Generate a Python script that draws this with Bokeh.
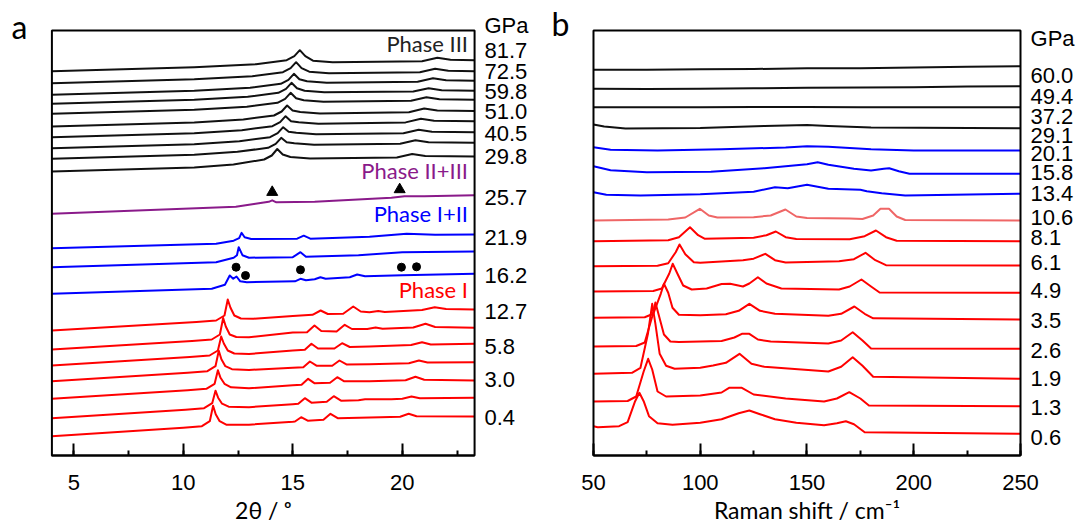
from bokeh.plotting import figure
from bokeh.models import (Label, LabelSet, ColumnDataSource, Range1d, SingleIntervalTicker,
                          BoxAnnotation)
from bokeh.layouts import row
from bokeh.embed import file_html
from bokeh.resources import INLINE
from bokeh.core.properties import value

# ---------------- Panel a : XRD (2theta, relative intensity + stacking offset) ----------------
xrd_black_offset = [384.3, 372.3, 360.7, 351.7, 341.7, 329, 318.3, 307.3, 296.7, 284]
xrd_black_x = [
    [4, 10.5, 13.32, 14.72, 15.07, 15.32, 15.57, 15.92, 16.82, 20.9, 21.6, 22.2, 23.3],
    [4, 10.5, 13.15, 14.55, 14.9, 15.15, 15.4, 15.75, 16.65, 20.8, 21.5, 22.1, 23.3],
    [4, 10.5, 13.05, 14.45, 14.8, 15.05, 15.3, 15.65, 16.55, 20.7, 21.4, 22.0, 23.3],
    [4, 10.5, 12.94, 14.34, 14.69, 14.94, 15.19, 15.54, 16.44, 20.5, 21.2, 21.8, 23.3],
    [4, 10.5, 12.9, 14.3, 14.65, 14.9, 15.15, 15.5, 16.4, 20.4, 21.1, 21.7, 23.3],
    [4, 10.5, 12.74, 14.14, 14.49, 14.74, 14.99, 15.34, 16.24, 20.3, 21.0, 21.6, 23.3],
    [4, 10.5, 12.67, 14.07, 14.42, 14.67, 14.92, 15.27, 16.17, 20.15, 20.85, 21.45, 23.3],
    [4, 10.5, 12.56, 13.96, 14.31, 14.56, 14.81, 15.16, 16.06, 20.05, 20.75, 21.35, 23.3],
    [4, 10.5, 12.47, 13.87, 14.22, 14.47, 14.72, 15.07, 15.97, 19.9, 20.6, 21.2, 23.3],
    [4, 10.5, 12.29, 13.69, 14.04, 14.29, 14.54, 14.89, 15.79, 19.75, 20.45, 21.05, 23.3],
]
xrd_black_rel = [
    [0, 4, 7, 11, 15, 21, 15, 10.5, 9, 10, 13.5, 11.5, 11],
    [0, 4, 7, 11, 15, 21, 15, 11.5, 10, 11, 14.5, 12.5, 12],
    [0, 4, 7, 11, 15, 21, 15.5, 13.5, 12, 13, 16.5, 14.5, 14],
    [0, 4, 7, 11, 15, 21, 15.5, 13, 11.5, 12.3, 15.5, 13.5, 13],
    [0, 4, 7, 11, 15, 21, 15.5, 13.5, 12, 13, 16.5, 14.5, 14],
    [0, 4, 7, 11, 15, 21, 16, 14.5, 13, 14.3, 18, 16, 15.5],
    [0, 4, 7, 11, 15, 21, 16, 15, 13.5, 14.8, 18.5, 16.5, 16],
    [0, 4, 7, 11, 15, 21, 16.5, 15.5, 14, 15, 18.5, 16.5, 16],
    [0, 4, 7, 11, 15, 21, 16.5, 15.5, 14, 15, 18.5, 16.5, 16],
    [0, 4, 7, 12, 16, 22.5, 17, 14.5, 13, 14, 17.5, 15.5, 15],
]

xrd_purple_offset = [241.7]
xrd_purple_x = [[4, 12.4, 13.3, 13.9, 14.06, 14.25, 16, 19.5, 20.1, 21, 23.3]]
xrd_purple_rel = [[0, 7, 10, 12, 13.5, 11.5, 12, 16, 17.5, 17.5, 18.5]]

xrd_blue_offset = [207.3, 188.3, 161.7]
xrd_blue_x = [
    [4, 11.5, 12.3, 12.55, 12.66, 12.8, 13.1, 15.2, 15.5, 15.8, 18.5, 20.2, 21.5, 23.3],
    [4, 11.5, 12.3, 12.45, 12.53, 12.7, 13.0, 15.0, 15.35, 15.6, 18, 20, 23.3],
    [4, 11.3, 11.9, 12.12, 12.28, 12.43, 12.6, 12.9, 15.1, 15.35, 15.6, 16.0, 16.26, 16.5,
     17.6, 17.94, 18.3, 20, 23.3],
]
xrd_blue_rel = [
    [0, 4.5, 7.5, 10, 15.4, 11, 9.2, 9.5, 12.5, 9.5, 11.5, 14.4, 13.5, 13.7],
    [0, 5, 9.4, 12, 20, 12, 9.5, 10, 15, 10.5, 12, 15, 15.7],
    [0, 5, 9, 18.3, 15, 17.3, 12.5, 11.6, 12.5, 15, 13.5, 14.5, 16.6, 15, 16.5, 19.3, 17.5,
     18.5, 20],
]

xrd_red_offset = [125, 106, 90, 74.3, 56.7, 37.3, 19.3]
xrd_red_x = [
    [4, 10.6, 11.5, 11.88, 12.03, 12.15, 12.33, 12.63, 13.2, 15.0, 15.9, 16.27, 16.6, 17.3,
     17.76, 18.1, 18.5, 18.9, 19.2, 20.9, 21.48, 22.0, 23.3],
    [4, 10.4, 11.3, 11.67, 11.82, 11.94, 12.12, 12.42, 13.0, 15.0, 15.65, 15.99, 16.3, 17.0,
     17.37, 17.7, 18.4, 18.78, 19.1, 20.5, 21.06, 21.5, 23.3],
    [4, 10.3, 11.2, 11.58, 11.73, 11.85, 12.03, 12.33, 13.0, 15.0, 15.55, 15.85, 16.15, 16.9,
     17.25, 17.6, 18.5, 20.4, 20.9, 21.3, 23.3],
    [4, 10.2, 11.1, 11.47, 11.62, 11.74, 11.92, 12.22, 13.0, 15.0, 15.48, 15.78, 16.08, 16.8,
     17.13, 17.45, 18.5, 20.3, 20.76, 21.15, 23.3],
    [4, 10.2, 11.05, 11.43, 11.58, 11.7, 11.88, 12.18, 13.0, 15.0, 15.4, 15.7, 16.0, 16.7,
     17.03, 17.35, 18.5, 20.15, 20.6, 21.0, 23.3],
    [4, 10.1, 10.95, 11.32, 11.47, 11.59, 11.77, 12.07, 13.0, 15.0, 15.25, 15.55, 15.85, 16.55,
     16.87, 17.2, 18.0, 18.3, 19.5, 20.0, 20.42, 20.8, 23.3],
    [4, 10.0, 10.85, 11.21, 11.36, 11.48, 11.66, 11.96, 13.0, 15.0, 15.1, 15.38, 15.68, 16.4,
     16.72, 17.05, 19.0, 19.9, 20.29, 20.65, 23.3],
]
xrd_red_rel = [
    [0, 8.5, 10, 15, 31, 23, 15, 12, 11.7, 14.5, 15.7, 20, 16.5, 16.7, 24, 19, 18.3, 19.5,
     18.5, 20.5, 23.3, 21.5, 21],
    [0, 8.5, 10, 15, 31.5, 23, 15, 12.5, 12.3, 17, 17.3, 24, 18.5, 18, 24.7, 20.5, 20.5, 22,
     20.8, 22, 25.7, 22.5, 21.7],
    [0, 8.5, 10, 15, 29, 22, 15, 12, 11.5, 15, 15.7, 21.7, 17, 17, 22.3, 18.5, 19, 20.5,
     23.3, 21, 21.7],
    [0, 8.5, 10, 15, 30.5, 22, 15, 12, 11.3, 13.5, 14, 19.7, 15.5, 15.5, 20.7, 16.8, 17, 18,
     20.7, 18.8, 19],
    [0, 8.5, 10, 15, 28.5, 21, 15, 11.5, 10.5, 13.5, 14, 20, 15.5, 16, 21.6, 17.5, 17.5, 18.5,
     22, 19, 18.3],
    [0, 8.5, 10, 15, 27.5, 20.5, 14.5, 11.5, 11, 14, 14.4, 20, 15.5, 16.5, 22, 17.5, 18, 19,
     19, 19.5, 21.7, 20, 20.4],
    [0, 8.5, 10, 15, 30.5, 22, 15, 11.5, 11.5, 14.5, 14.7, 19, 15.5, 16.5, 22.4, 18, 19, 19.5,
     22.4, 20, 19.7],
]

xrd_triangle_x = [14.06, 19.88]
xrd_triangle_y = [263.3, 266]
xrd_dot_x = [12.41, 12.84, 15.35, 19.96, 20.65]
xrd_dot_y = [188.3, 180, 185.7, 188.3, 188.7]

xrd_label_text = ["GPa", "81.7", "72.5", "59.8", "51.0", "40.5", "29.8", "25.7", "21.9",
                  "16.2", "12.7", "5.8", "3.0", "0.4"]
xrd_label_y = [430, 405, 384.3, 364.3, 344, 322.3, 299, 258.3, 218.3, 180, 144.3, 109.3, 76, 38.3]

xrd_phase_text = ["Phase III", "Phase II+III", "Phase I+II", "Phase I"]
xrd_phase_y = [412, 285, 242, 166]

# ---------------- Panel b : Raman ----------------
ram_label_text = ["GPa", "60.0", "49.4", "37.2", "29.1", "20.1", "15.8", "13.4", "10.6", "8.1",
                  "6.1", "4.9", "3.5", "2.6", "1.9", "1.3", "0.6"]
ram_label_y = [416.7, 380, 359, 339.3, 320.3, 302, 282.7, 262, 238, 218.3, 193, 165, 135, 105,
               76.7, 48.3, 18.3]

ram_black_offset = [385.7, 366.7, 348.3, 331]
ram_black_x = [
    [50, 75, 100, 125, 150, 175, 200, 225, 250],
    [50, 75, 100, 125, 150, 175, 200, 225, 250],
    [50, 75, 100, 125, 150, 175, 200, 225, 250],
    [50, 55, 65, 100, 130, 150, 160, 180, 250],
]
ram_black_rel = [
    [0, 0, 0.5, 0.8, 1.5, 1.6, 2.3, 3, 3.6],
    [0, -0.3, 0, 0.5, 1, 1.2, 1.6, 2.2, 2.6],
    [0, 0, 0, 0.3, 0.3, 0, 0, 0, 0],
    [0, -2, -4, -3.5, -1.5, -0.5, -1.5, -3, -3.7],
]

ram_blue_offset = [308.3, 289.3, 263.3]
ram_blue_x = [
    [50, 58, 80, 110, 140, 150, 160, 180, 200, 250],
    [50, 58, 75, 105, 130, 150, 155, 160, 172, 180, 186, 188.5, 193, 198, 250],
    [50, 56, 72, 100, 125, 135, 141, 150, 160, 175, 178, 185, 196, 250],
]
ram_blue_rel = [
    [0, -2.5, -3.3, -2, -0.3, 1, 0.5, -2, -3.3, -3.3],
    [0, -4, -6, -5.5, -2, 2, 4, 1.5, -2.5, -4.3, -2.5, -2, -5, -7.6, -7.6],
    [0, -2.5, -3.3, -2, 0.5, 5, 4, 7.4, 3.4, 2.5, 1, -1, -3.3, -1.6],
]

ram_pink_offset = [235]
ram_pink_x = [[50, 85, 93, 99.8, 104, 108, 125, 133, 139.9, 145, 150, 170, 176, 181, 184.4,
               188.4, 192, 196, 250]]
ram_pink_rel = [[0, 1, 3, 11.7, 5, 3, 3.3, 5, 11, 4, 2.5, 2, 1.5, 5, 11.7, 11.7, 4, 0.5, 0]]

ram_red_offset = [214.3, 189.3, 164, 137.7, 109, 81.7, 54, 29.3]
ram_red_x = [
    [50, 85, 90, 95.2, 99, 102, 125, 131, 135.4, 140, 145, 170, 177, 182.3, 187, 192, 250],
    [50, 80, 85, 88.5, 90.3, 93, 97, 100, 120, 125, 130.5, 135, 140, 165, 172, 177.4, 182,
     187, 250],
    [50, 78, 82, 85.5, 87.1, 89.5, 92, 96, 103, 110, 114, 120, 123, 127, 131, 138, 165, 170,
     175.5, 180, 184, 250],
    [50, 74, 78, 81.5, 83, 85, 87, 90, 100, 112, 118, 123, 128, 135, 160, 166, 172.2, 177,
     181, 250],
    [50, 70, 74, 77.5, 79, 80.5, 83, 86, 90, 110, 116, 119.5, 123, 127, 133, 160, 166, 171.4,
     176, 180, 250],
    [50, 68, 72, 75.5, 77.5, 79, 81, 84, 88, 100, 106, 112, 118.4, 124, 130, 160, 166, 171.4,
     176, 181, 250],
    [50, 66, 70, 73.5, 75.6, 77.5, 80, 84, 100, 110, 113.5, 119.5, 125, 140, 158, 164, 169.8,
     175, 179, 250],
    [50, 52, 62, 66, 69.5, 71.5, 73.5, 76, 80, 87, 100, 110, 118, 123, 128, 135, 145, 158,
     164, 168.2, 172, 177, 250],
]
ram_red_rel = [
    [0, 1, 4, 14, 6, 2.5, 3.5, 6, 9.7, 4, 2.3, 2, 5, 10.7, 4, 0.5, 0],
    [0, 0.5, 3, 14, 21.7, 12, 4, 3.5, 6, 7.5, 12.4, 6, 3.7, 5, 7, 13.4, 6, 1, 0.7],
    [0, 0.5, 3, 18, 27.7, 17, 6, 2, 3, 7.5, 7.7, 5, 8, 14.3, 8, 3, 2, 5, 12, 5, -1, -1.3],
    [0, 0.5, 4, 24, 34, 25, 10, 3, 2.5, 3.5, 7, 14, 7, 4, 2, 4, 11.3, 4, -0.5, -1.7],
    [0, 0.5, 4, 30, 44, 32, 12, 5, 4.5, 5.5, 9, 12.7, 12.7, 7, 5, 3, 6, 14.3, 6, -2, -2.3],
    [0, 1, 6, 40, 70, 50, 20, 8, 5, 6, 8.3, 11, 20, 10, 7, 2.3, 7, 16.6, 8, -3, -5],
    [0, 0.5, 5, 30, 42.7, 32, 10, 5, 6, 9, 13.7, 13.7, 7, 3, 0, 3, 9.3, 3, -4, -4.7],
    [0, -1, 0, 4, 25, 33.4, 25, 10, 3, 1.5, 3.5, 7, 13, 15.7, 12, 7, 3.5, 1, 3, 5, 2, -6, -7.6],
]

BLACK = "#111111"
BLUE = "#0000ff"
RED = "#ff0000"
PURPLE = "#8a1a8a"
PINK = "#ef6666"
NUM_FONT = "Liberation Sans"
TXT_FONT = "Lato"
Y_TOP = 425  # top of the plotting box in offset-intensity units


def make_fig(canvas_x, width, box_x, interval):
    # the whole canvas is the frame; the library axis is pinned to the box bottom
    p = figure(width=width, height=526, x_range=Range1d(*canvas_x), y_range=Range1d(-71, 455),
               output_backend="svg", toolbar_location=None, y_axis_location=None,
               min_border_left=0, min_border_right=0, min_border_top=0, min_border_bottom=0)
    p.xgrid.visible = False
    p.ygrid.visible = False
    p.background_fill_color = "white"
    p.border_fill_color = "white"
    p.outline_line_color = None
    ax = p.xaxis[0]
    ax.fixed_location = 0
    ax.bounds = box_x
    ax.ticker = SingleIntervalTicker(interval=interval, num_minor_ticks=2)
    ax.axis_line_color = "black"
    ax.axis_line_width = 2
    ax.major_tick_in = 12
    ax.major_tick_out = 0
    ax.minor_tick_in = 5
    ax.minor_tick_out = 0
    ax.major_tick_line_width = 2
    ax.minor_tick_line_width = 2
    ax.major_tick_line_color = "black"
    ax.minor_tick_line_color = "black"
    ax.major_label_text_font = NUM_FONT
    ax.major_label_text_font_size = "22px"
    ax.major_label_text_color = "black"
    ax.major_label_standoff = 19
    p.add_layout(BoxAnnotation(left=box_x[0], right=box_x[1], bottom=0, top=Y_TOP,
                               fill_color=None, fill_alpha=0, line_color="black",
                               line_width=2, line_alpha=1))
    return p


def draw(p, xs_list, rel_list, offsets, color):
    for xs, rel, off in zip(xs_list, rel_list, offsets):
        p.line(xs, [off + v for v in rel], line_color=color, line_width=2, line_join="round")


def side_labels(p, x, texts, ys):
    src = ColumnDataSource(dict(x=[x] * len(texts), y=ys, t=texts))
    p.add_layout(LabelSet(x="x", y="y", text="t", source=src, text_font=value(NUM_FONT),
                          text_font_size=value("22px"), text_color="black",
                          text_baseline="middle", text_align="left"))


def text(p, x, y, t, size, color="black", align="center", font=TXT_FONT):
    p.add_layout(Label(x=x, y=y, text=t, text_font=font, text_font_size=size,
                       text_color=color, text_align=align, text_baseline="middle"))


# ---- panel a
pa = make_fig((1.653, 26.31), 540, (4, 23.3), 5)
draw(pa, xrd_black_x, xrd_black_rel, xrd_black_offset, BLACK)
draw(pa, xrd_purple_x, xrd_purple_rel, xrd_purple_offset, PURPLE)
draw(pa, xrd_blue_x, xrd_blue_rel, xrd_blue_offset, BLUE)
draw(pa, xrd_red_x, xrd_red_rel, xrd_red_offset, RED)
pa.scatter(xrd_triangle_x, xrd_triangle_y, marker="triangle", size=11, color="black")
pa.scatter(xrd_dot_x, xrd_dot_y, marker="circle", size=8, color="black")
side_labels(pa, 23.75, xrd_label_text, xrd_label_y)
for t, y, c in zip(xrd_phase_text, xrd_phase_y, ["#222222", PURPLE, BLUE, RED]):
    text(pa, 23.0, y, t, "22px", color=c, align="right")
text(pa, 13.65, -54.5, "2θ / ᵒ", "23px")
text(pa, 2.52, 429.5, "a", "32px")

# ---- panel b
pb = make_fig((25.18, 278.57), 541, (50, 250), 50)
draw(pb, ram_black_x, ram_black_rel, ram_black_offset, BLACK)
draw(pb, ram_blue_x, ram_blue_rel, ram_blue_offset, BLUE)
draw(pb, ram_pink_x, ram_pink_rel, ram_pink_offset, PINK)
draw(pb, ram_red_x, ram_red_rel, ram_red_offset, RED)
side_labels(pb, 254.7, ram_label_text, ram_label_y)
text(pb, 150, -54.5, "Raman shift / cm⁻¹", "23px")
text(pb, 34.5, 432.5, "b", "32px")

layout = row(pa, pb)
open("out.html", "w").write(file_html(layout, INLINE))
